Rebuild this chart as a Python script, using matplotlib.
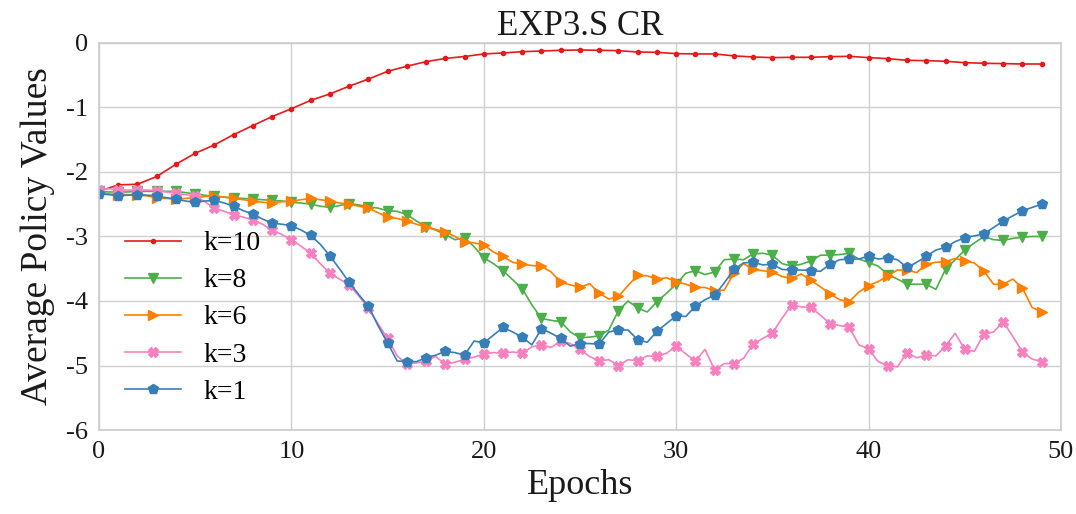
import numpy as np
import matplotlib
matplotlib.use("Agg")
import matplotlib.pyplot as plt

plt.rcParams['font.family'] = ['Liberation Serif', 'DejaVu Serif']
plt.rcParams['axes.unicode_minus'] = False

# epochs for k=10 (one value per epoch)
epochs_k10 = np.arange(0, 50)
k10 = [-2.30, -2.20, -2.19, -2.07, -1.88, -1.71, -1.58, -1.42, -1.28, -1.14,
       -1.02, -0.89, -0.79, -0.67, -0.56, -0.44, -0.36, -0.29, -0.24, -0.21,
       -0.17, -0.155, -0.135, -0.125, -0.113, -0.109, -0.113, -0.119, -0.14, -0.145,
       -0.165, -0.17, -0.17, -0.20, -0.217, -0.227, -0.222, -0.222, -0.212, -0.207,
       -0.227, -0.243, -0.269, -0.274, -0.284, -0.305, -0.315, -0.32, -0.326, -0.326]

# the other runs are logged every half epoch
epochs_half = np.arange(0, 49.5, 0.5)

k8 = [-2.30, -2.31, -2.31, -2.31, -2.30, -2.30, -2.30, -2.30, -2.30, -2.32,
      -2.34, -2.36, -2.38, -2.39, -2.40, -2.41, -2.42, -2.43, -2.44, -2.45,
      -2.47, -2.48, -2.50, -2.53, -2.55, -2.52, -2.49, -2.51, -2.54, -2.56,
      -2.60, -2.61, -2.66, -2.76, -2.85, -2.90, -2.97, -3.05, -3.02, -3.16,
      -3.33, -3.42, -3.53, -3.67, -3.81, -4.06, -4.27, -4.30, -4.32, -4.48,
      -4.57, -4.56, -4.54, -4.45, -4.15, -4.00, -4.11, -4.17, -4.01, -3.88,
      -3.74, -3.57, -3.53, -3.59, -3.55, -3.36, -3.35, -3.36, -3.27, -3.26,
      -3.29, -3.42, -3.46, -3.43, -3.38, -3.29, -3.29, -3.28, -3.26, -3.35,
      -3.40, -3.46, -3.59, -3.66, -3.74, -3.74, -3.74, -3.82, -3.51, -3.36,
      -3.21, -3.10, -3.00, -3.05, -3.06, -3.03, -3.01, -3.00, -3.00]

k6 = [-2.33, -2.34, -2.35, -2.35, -2.36, -2.37, -2.40, -2.41, -2.42, -2.41,
      -2.40, -2.38, -2.37, -2.39, -2.41, -2.43, -2.45, -2.47, -2.48, -2.46,
      -2.45, -2.43, -2.41, -2.43, -2.45, -2.48, -2.50, -2.53, -2.56, -2.63,
      -2.70, -2.72, -2.76, -2.81, -2.85, -2.89, -2.93, -3.00, -3.08, -3.10,
      -3.13, -3.24, -3.31, -3.40, -3.43, -3.45, -3.46, -3.55, -3.71, -3.75,
      -3.79, -3.73, -3.88, -3.97, -3.93, -3.76, -3.60, -3.61, -3.66, -3.64,
      -3.70, -3.74, -3.79, -3.79, -3.84, -3.83, -3.57, -3.42, -3.51, -3.53,
      -3.55, -3.62, -3.65, -3.58, -3.68, -3.78, -3.89, -3.98, -4.01, -3.86,
      -3.76, -3.70, -3.61, -3.52, -3.52, -3.56, -3.43, -3.40, -3.39, -3.34,
      -3.38, -3.41, -3.54, -3.74, -3.74, -3.66, -3.80, -4.10, -4.17]

k3 = [-2.28, -2.26, -2.28, -2.28, -2.28, -2.28, -2.29, -2.31, -2.33, -2.35,
      -2.38, -2.46, -2.56, -2.61, -2.66, -2.70, -2.74, -2.81, -2.90, -2.97,
      -3.05, -3.15, -3.26, -3.42, -3.57, -3.66, -3.75, -3.92, -4.11, -4.35,
      -4.58, -4.85, -4.98, -4.96, -4.93, -4.86, -4.98, -4.95, -4.90, -4.87,
      -4.82, -4.80, -4.81, -4.79, -4.81, -4.71, -4.68, -4.72, -4.62, -4.66,
      -4.75, -4.86, -4.93, -4.91, -5.00, -4.91, -4.93, -4.85, -4.86, -4.81,
      -4.70, -4.82, -4.93, -4.75, -5.07, -4.97, -4.97, -4.89, -4.67, -4.58,
      -4.50, -4.27, -4.06, -4.09, -4.10, -4.22, -4.35, -4.38, -4.41, -4.68,
      -4.74, -4.94, -5.00, -5.02, -4.80, -4.88, -4.84, -4.85, -4.70, -4.50,
      -4.75, -4.78, -4.51, -4.48, -4.32, -4.55, -4.79, -4.90, -4.94]

k1 = [-2.34, -2.35, -2.37, -2.36, -2.35, -2.36, -2.37, -2.40, -2.42, -2.45,
      -2.47, -2.45, -2.44, -2.48, -2.53, -2.60, -2.65, -2.73, -2.79, -2.81,
      -2.83, -2.90, -2.98, -3.12, -3.30, -3.50, -3.71, -3.90, -4.08, -4.38,
      -4.65, -4.93, -4.94, -4.94, -4.88, -4.84, -4.78, -4.80, -4.84, -4.62,
      -4.65, -4.53, -4.41, -4.48, -4.56, -4.68, -4.43, -4.50, -4.58, -4.70,
      -4.66, -4.66, -4.67, -4.48, -4.45, -4.45, -4.60, -4.64, -4.47, -4.35,
      -4.23, -4.24, -4.08, -3.98, -3.91, -3.72, -3.51, -3.41, -3.40, -3.44,
      -3.43, -3.51, -3.52, -3.52, -3.53, -3.54, -3.43, -3.36, -3.35, -3.35,
      -3.30, -3.35, -3.33, -3.36, -3.48, -3.40, -3.31, -3.21, -3.17, -3.08,
      -3.02, -2.99, -2.96, -2.86, -2.76, -2.68, -2.60, -2.55, -2.50]

fig = plt.figure(figsize=(10.76, 5.14), dpi=100)
ax = fig.add_axes([0.092, 0.1634, 0.894, 0.753])

lw = 1.2
ax.plot(epochs_k10, k10, color='#e41a1c', marker='.', ms=6, lw=lw, label='k=10')
ax.plot(epochs_half, k8, color='#4daf4a', marker='v', ms=6.5, lw=lw, markevery=2, label='k=8')
ax.plot(epochs_half, k6, color='#ff7f00', marker='>', ms=6.5, lw=lw, markevery=2, label='k=6')
ax.plot(epochs_half, k3, color='#f781bf', marker='X', ms=6.5, lw=lw, markevery=2, label='k=3')
ax.plot(epochs_half, k1, color='#377eb8', marker='p', ms=7, lw=lw, markevery=2, label='k=1')

ax.set_xlim(0, 50)
ax.set_ylim(-6, 0)
ax.set_xticks([0, 10, 20, 30, 40, 50])
ax.set_yticks([-6, -5, -4, -3, -2, -1, 0])
ax.grid(True, color='#d0d0d0', lw=1.0)
ax.set_axisbelow(True)
for s in ax.spines.values():
    s.set_color('#cccccc')
    s.set_linewidth(1.2)
ax.tick_params(length=0, labelsize=19, colors='#1a1a1a', pad=8)

ax.set_title('EXP3.S CR', fontsize=25, color='#1a1a1a', pad=6)
ax.set_xlabel('Epochs', fontsize=26, color='#1a1a1a', labelpad=4)
ax.set_ylabel('Average Policy Values', fontsize=27, color='#1a1a1a', labelpad=8)

ax.legend(loc='center left', bbox_to_anchor=(0.016, 0.29), borderaxespad=0,
          frameon=False, fontsize=20, labelspacing=0.42, handlelength=2.0,
          handletextpad=0.8)

fig.savefig('out.png', dpi=100)
